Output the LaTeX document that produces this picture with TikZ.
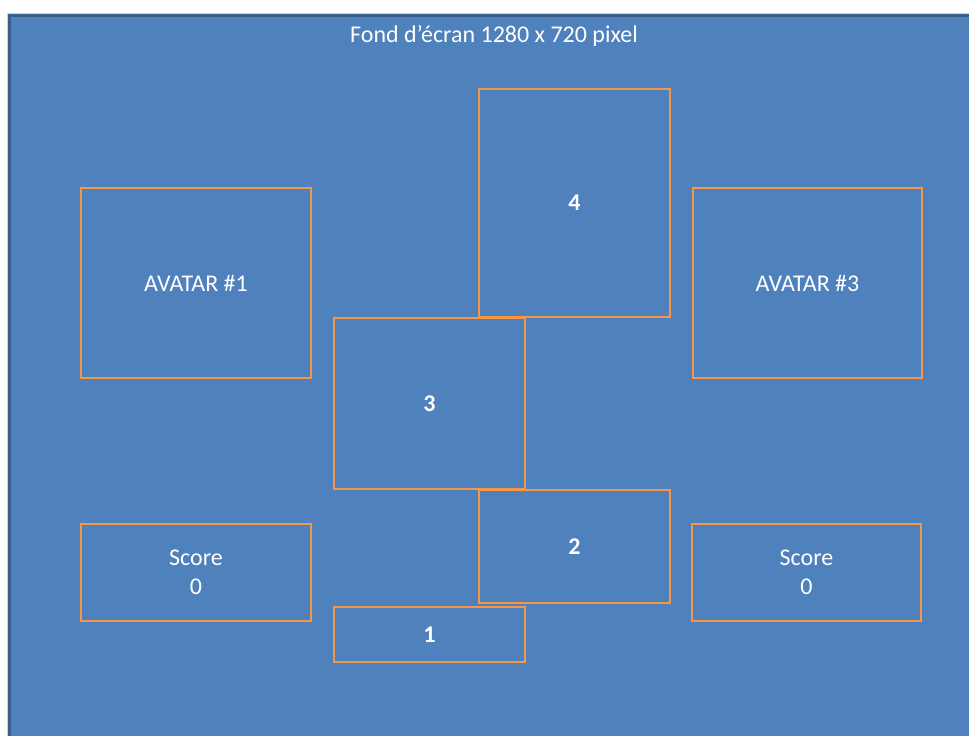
\documentclass[tikz,border=0pt]{standalone}
\usepackage{fontspec}
\setmainfont{Carlito}
\usepackage{xcolor}
\usepackage{tikz}
\usetikzlibrary{positioning}
\definecolor{screenblue}{HTML}{4F81BD}
\definecolor{screenedge}{HTML}{3A5F8B}
\definecolor{zoneorange}{HTML}{F79646}
\tikzset{
  zone/.style    = {draw=zoneorange, line width=2.6pt, inner sep=0pt,
                    align=center, text=white,
                    font=\fontsize{24}{29}\selectfont},
  numzone/.style = {zone, font=\fontsize{24}{29}\selectfont\bfseries},
}

\begin{document}
\begin{tikzpicture}[x=1pt, y=-1pt]

    % Screen background
    \useasboundingbox (0,0) rectangle (969,736);
    \clip (0,0) rectangle (969,736);
    \fill[screenblue] (8,14) rectangle (990,760);
    \draw[gray!35, line width=1pt] (7,760) -- (7,13) -- (990,13);
    \draw[screenedge, line width=3pt] (9.5,760) -- (9.5,15.5) -- (990,15.5);
    \node[text=white, font=\fontsize{24}{29}\selectfont] (title) at (494,36)
        {Fond d’écran 1280 x 720 pixel};

    % Avatars
    \node[zone, minimum width=230pt, minimum height=190pt] (avatarA) at (196,283) {AVATAR \#1};
    \node[zone, minimum width=229pt, minimum height=190pt] (avatarC) at (807.5,283) {AVATAR \#3};

    % Scores
    \node[zone, minimum width=230pt, minimum height=97pt] (scoreA) at (196,572.5) {Score\\0};
    \node[zone, minimum width=229pt, minimum height=97pt] (scoreC) at (806.5,572.5) {Score\\0};

    % Numbered zones
    \node[numzone, minimum width=191pt, minimum height=228pt] (zone4) at (574.5,203) {4};
    \node[numzone, minimum width=191pt, minimum height=171pt] (zone3) at (429.5,403.5) {3};
    \node[numzone, minimum width=191pt, minimum height=113pt] (zone2) at (574.5,546.5) {2};
    \node[numzone, minimum width=191pt, minimum height=55pt]  (zone1) at (429.5,634.5) {1};

\end{tikzpicture}
\end{document}
